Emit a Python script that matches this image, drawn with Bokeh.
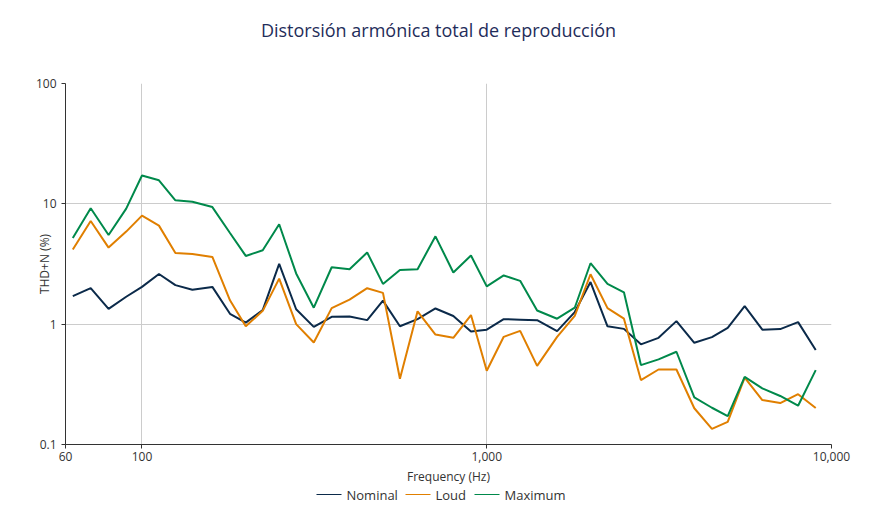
from bokeh.plotting import figure
from bokeh.layouts import column
from bokeh.models import ColumnDataSource, Range1d, FixedTicker, CustomJSTickFormatter
from bokeh.core.properties import value
from bokeh.embed import file_html
from bokeh.resources import INLINE

freq = [63, 71, 80, 90, 100, 112, 125, 140, 160, 180, 200, 224, 250, 280, 315, 355,
        400, 450, 500, 560, 630, 710, 800, 900, 1000, 1120, 1250, 1400, 1600, 1800,
        2000, 2240, 2500, 2800, 3150, 3550, 4000, 4500, 5000, 5600, 6300, 7100, 8000, 9000]

nominal = [1.71, 1.99, 1.34, 1.69, 2.04, 2.61, 2.11, 1.93, 2.04, 1.22, 1.03, 1.31,
           3.17, 1.33, 0.95, 1.15, 1.16, 1.08, 1.57, 0.96, 1.10, 1.35, 1.17, 0.87,
           0.90, 1.10, 1.09, 1.08, 0.875, 1.26, 2.24, 0.96, 0.914, 0.68, 0.77, 1.06,
           0.70, 0.78, 0.93, 1.41, 0.90, 0.91, 1.04, 0.61]

loud = [4.17, 7.2, 4.33, 5.88, 7.98, 6.59, 3.91, 3.83, 3.62, 1.58, 0.96, 1.29,
        2.39, 1.0, 0.705, 1.36, 1.60, 1.99, 1.82, 0.352, 1.28, 0.82, 0.77, 1.19,
        0.41, 0.785, 0.88, 0.45, 0.785, 1.17, 2.60, 1.36, 1.11, 0.343, 0.42, 0.42,
        0.20, 0.135, 0.154, 0.36, 0.234, 0.221, 0.262, 0.201]

maximum = [5.2, 9.18, 5.51, 9.12, 17.2, 15.7, 10.7, 10.4, 9.4, 5.72, 3.69, 4.11,
           6.76, 2.64, 1.37, 2.97, 2.86, 3.94, 2.16, 2.82, 2.86, 5.37, 2.69, 3.72,
           2.06, 2.54, 2.29, 1.30, 1.11, 1.37, 3.21, 2.16, 1.84, 0.457, 0.51, 0.59,
           0.246, 0.202, 0.172, 0.365, 0.293, 0.253, 0.210, 0.415]

series_names = ["Nominal", "Loud", "Maximum"]
series_colors = ["#0b2a4a", "#e07f00", "#00894b"]

x_ticks = [60, 100, 1000, 10000]
y_ticks = [0.1, 1, 10, 100]

title_text = "Distorsión armónica total de reproducción"

src = ColumnDataSource(dict(freq=freq, nominal=nominal, loud=loud, maximum=maximum))

FONT = "Open Sans"
W = 870
LEFT, RIGHT = 65, 39          # plot-frame borders (px)


def strip(height):
    # frames in a column are aligned to the chart frame: use page-pixel coordinates
    f = figure(width=W, height=height, x_range=Range1d(LEFT, W - RIGHT),
               y_range=Range1d(0, height),
               output_backend="svg", toolbar_location=None,
               min_border_left=LEFT, min_border_right=RIGHT,
               min_border_top=0, min_border_bottom=0)
    f.axis.visible = False
    f.grid.visible = False
    f.outline_line_color = None
    f.border_fill_color = "white"
    f.background_fill_color = "white"
    return f


# ---- title strip ----
TH = 73
tf = strip(TH)
tf.text(x=[438], y=[TH - 29], text=[title_text], text_font=value("Open Sans"),
        text_font_size="18px", text_color="#1f2d5a", text_align="center",
        text_baseline="middle")

# ---- main chart ----
p = figure(width=W, height=414, x_axis_type="log", y_axis_type="log",
           x_range=Range1d(60, 10000), y_range=Range1d(0.1, 100),
           output_backend="svg", toolbar_location=None,
           min_border_left=LEFT, min_border_right=RIGHT, min_border_top=10,
           min_border_bottom=43)

p.outline_line_color = None
p.background_fill_color = "white"
p.border_fill_color = "white"

for col, color in zip(["nominal", "loud", "maximum"], series_colors):
    p.line("freq", col, source=src, line_color=color, line_width=2)

fmt = CustomJSTickFormatter(code="return tick.toLocaleString('en-US');")

for ax in (p.xaxis[0], p.yaxis[0]):
    ax.formatter = fmt
    ax.axis_line_color = "#333333"
    ax.major_tick_line_color = "#333333"
    ax.major_tick_out = 4
    ax.major_tick_in = 0
    ax.minor_tick_line_color = None
    ax.major_label_text_font = FONT
    ax.major_label_text_font_size = "12px"
    ax.major_label_text_color = "#333333"
    ax.axis_label_text_font = FONT
    ax.axis_label_text_font_size = "12px"
    ax.axis_label_text_font_style = "normal"
    ax.axis_label_text_color = "#333333"

p.xaxis.ticker = FixedTicker(ticks=x_ticks)
p.yaxis.ticker = FixedTicker(ticks=y_ticks)
p.xaxis.axis_label = "Frequency (Hz)"
p.yaxis.axis_label = "THD+N (%)"
p.xaxis.major_label_standoff = 3
p.xaxis.axis_label_standoff = 4
p.yaxis.major_label_standoff = 5
p.yaxis.axis_label_standoff = -20

p.xgrid.grid_line_color = "#cccccc"
p.ygrid.grid_line_color = "#cccccc"
p.xgrid.ticker = FixedTicker(ticks=[100, 1000, 10000])
p.ygrid.ticker = FixedTicker(ticks=[1, 10, 100])

# ---- legend strip ----
LH = 20
lf = strip(LH)
leg_x = [316, 405, 474]          # left edge of each swatch (page px)
leg_y = LH - 7                   # vertical centre of the legend row
lf.segment(x0=leg_x, x1=[x + 25 for x in leg_x], y0=[leg_y] * 3, y1=[leg_y] * 3,
           line_color=series_colors, line_width=1.2)
lf.text(x=[x + 30 for x in leg_x], y=[leg_y] * 3, text=series_names,
        text_font=value(FONT), text_font_size="13px", text_color="#333333",
        text_align="left", text_baseline="middle")

layout = column(tf, p, lf, spacing=0)

open("out.html", "w").write(file_html(layout, INLINE))
